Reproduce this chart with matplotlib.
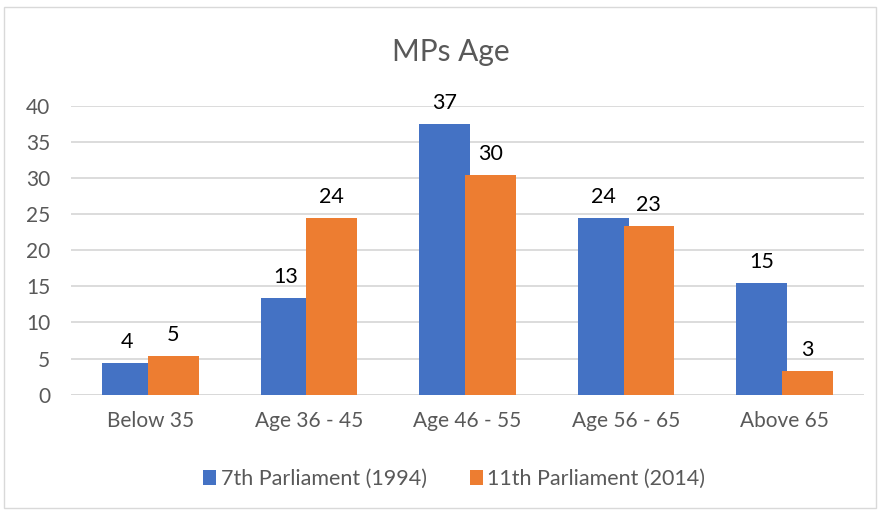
import numpy as np
import matplotlib.pyplot as plt
from matplotlib.patches import Rectangle

categories = ['Below 35', 'Age 36 - 45', 'Age 46 - 55', 'Age 56 - 65', 'Above 65']
parl_1994 = [4.35, 13.4, 37.4, 24.4, 15.4]
parl_2014 = [5.36, 24.4, 30.36, 23.35, 3.32]
series_names = ['7th Parliament (1994)', '11th Parliament (2014)']

blue = '#4472C4'
orange = '#ED7D31'
grey = '#595959'

plt.rcParams['font.family'] = ['Lato', 'DejaVu Sans']

fig = plt.figure(figsize=(8.8, 5.11), dpi=100)
ax = fig.add_axes([0.0807, 0.2276, 0.9011, 0.5656])

x = np.arange(len(categories))
w = 0.32
off = 0.144
b1 = ax.bar(x - off, parl_1994, w, color=blue, label=series_names[0], zorder=2)
b2 = ax.bar(x + off, parl_2014, w, color=orange, label=series_names[1], zorder=3)

for bars in (b1, b2):
    ax.bar_label(bars, fmt='%.0f', padding=8, fontsize=15.5, color='black')

ax.set_xlim(-0.5, 4.5)
ax.set_ylim(0, 40)
ax.set_yticks(range(0, 41, 5))
ax.set_xticks(x)
ax.set_xticklabels(categories)
ax.tick_params(axis='y', length=0, pad=15, labelsize=15, labelcolor=grey)
ax.tick_params(axis='x', length=0, pad=12, labelsize=15, labelcolor=grey)
ax.grid(axis='y', color='#D9D9D9', linewidth=1.3, zorder=0)
for s in ax.spines.values():
    s.set_visible(False)
ax.axhline(0, color='#D9D9D9', linewidth=1.3, zorder=1)

fig.text(0.512, 0.898, 'MPs Age', ha='center', va='center', fontsize=21.5, color=grey)

ax.legend(loc='center', bbox_to_anchor=(0.516, 0.0625), bbox_transform=fig.transFigure,
          ncol=2, frameon=False, fontsize=15.5, labelcolor=grey, handlelength=0.6,
          handleheight=0.75, handletextpad=0.2, columnspacing=2.0)

fig.patches.append(Rectangle((4 / 880, 3 / 511), 872 / 880, 501 / 511, transform=fig.transFigure,
                             fill=False, edgecolor='#D9D9D9', linewidth=1))

fig.savefig('out.png', dpi=100)
